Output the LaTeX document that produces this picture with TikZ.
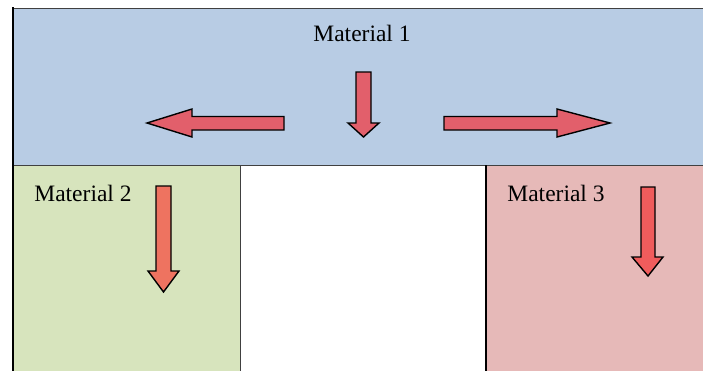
\documentclass[tikz,border=0pt]{standalone}
\usepackage{fontspec}
\setmainfont{Liberation Serif}
\usepackage{xcolor}
\usepackage{tikz}
\usetikzlibrary{positioning}

\definecolor{matblue}{HTML}{B8CCE4}
\definecolor{matgreen}{HTML}{D7E4BD}
\definecolor{matpink}{HTML}{E6B9B8}
\definecolor{flowred}{HTML}{E25F6B}
\definecolor{floworange}{HTML}{EE7360}
\definecolor{flowbright}{HTML}{F05C5C}

\tikzset{
  region/.style={draw=black!75,line width=1pt},
  blockarrow/.style={draw=black,line width=1.4pt,line join=miter},
  label/.style={font=\fontsize{23.5}{28}\selectfont,inner sep=0pt,anchor=base}
}

\begin{document}
\begin{tikzpicture}[x=1pt,y=-1pt]
  \useasboundingbox (0,0) rectangle (703,370);
  % the three material blocks
  \fill[white] (0,0) rectangle (703,370);
  \filldraw[region,fill=matblue] (13,8) rectangle (712,165);
  \filldraw[region,fill=matgreen] (13,165) rectangle (240,380);
  \filldraw[region,fill=matpink] (486,165) rectangle (712,380);
  \draw[line width=2.6pt] (13,7) -- (13,372);
  \draw[line width=1.8pt] (486,165) -- (486,372);
  % flow arrows in material 1
  \filldraw[blockarrow,fill=flowred] (284,116.5)--(192,116.5)--(192,109)--(147,123)--(192,137)--(192,130)--(284,130)--cycle;
  \filldraw[blockarrow,fill=flowred] (444,116.5)--(557,116.5)--(557,109)--(610,123)--(557,137)--(557,130)--(444,130)--cycle;
  \filldraw[blockarrow,fill=flowred] (356,72)--(371,72)--(371,123)--(379,123)--(363.5,137)--(348,123)--(356,123)--cycle;
  % flow arrows in materials 2 and 3
  \filldraw[blockarrow,fill=floworange] (156,186)--(171,186)--(171,271)--(179,271)--(163.5,292)--(148,271)--(156,271)--cycle;
  \filldraw[blockarrow,fill=flowbright] (641,187)--(655,187)--(655,257)--(663,257)--(648,276)--(632,257)--(641,257)--cycle;
  % labels
  \node[label] (mat1) at (362,41) {Material 1};
  \node[label] (mat2) at (83,201) {Material 2};
  \node[label] (mat3) at (556,201) {Material 3};
\end{tikzpicture}
\end{document}
